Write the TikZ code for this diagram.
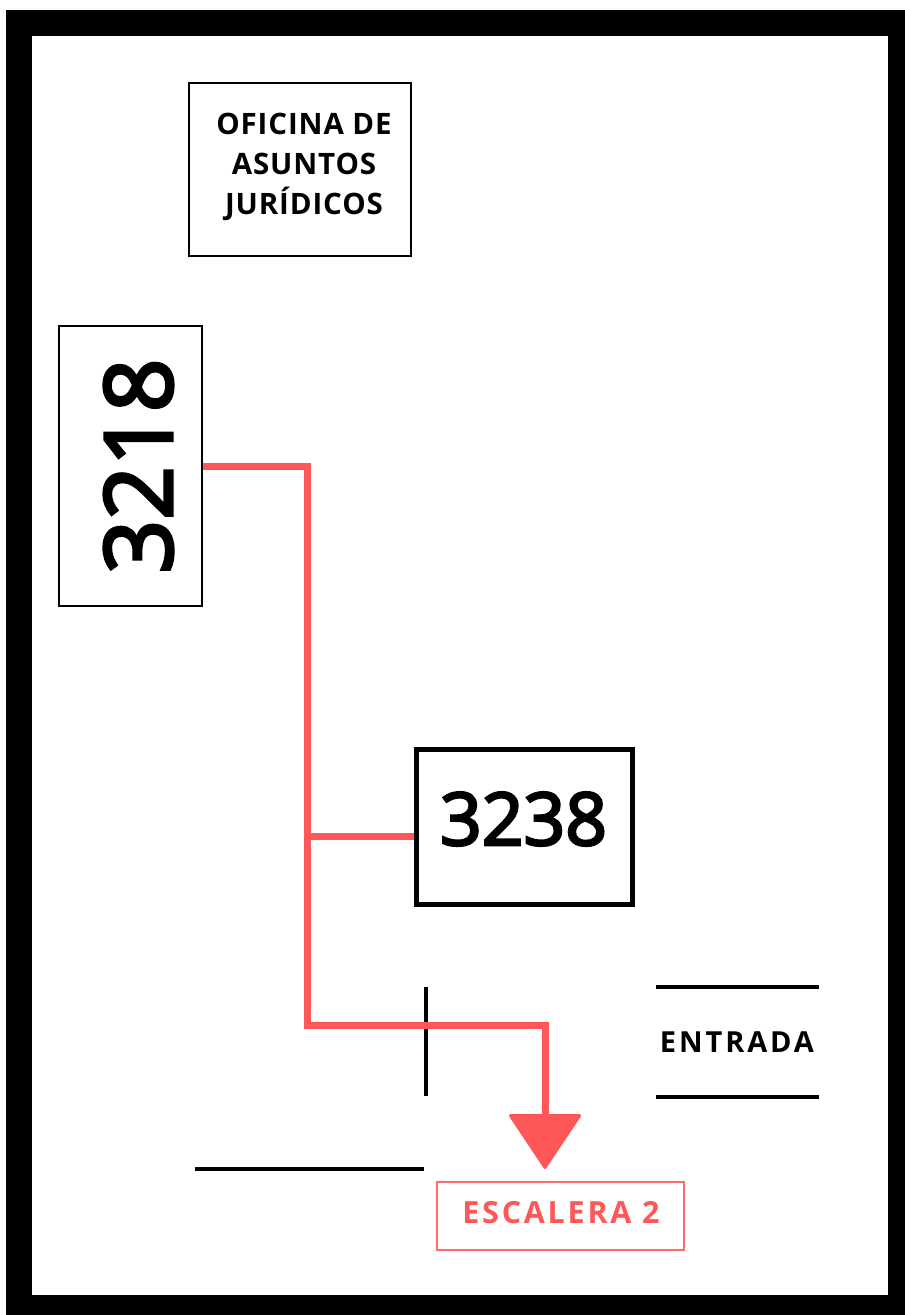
\documentclass[tikz,border=0pt]{standalone}
\usepackage{fontspec}
\setmainfont{Open Sans}
\newfontfamily\digitfont{Open Sans}[FakeBold=3.5]
\newfontfamily\titlefont{Open Sans}[LetterSpace=3]
\newfontfamily\spacedfont{Open Sans}[LetterSpace=10]
\newfontfamily\escfont{Open Sans}[LetterSpace=9]
\usetikzlibrary{arrows.meta,calc}
\definecolor{cred}{HTML}{FF5757}
\definecolor{credbox}{HTML}{FF6B6B}
\tikzset{
  room/.style={draw=black,fill=white,inner sep=0pt},
  redline/.style={draw=cred,line width=7pt,line join=miter},
  wall/.style={draw=black,line width=4.5pt},
  label/.style={inner sep=0pt,text=black}
}
\begin{document}
\begin{tikzpicture}[x=1pt,y=-1pt]
\useasboundingbox (0,0) rectangle (905,1315);
\fill[black] (6,10) rectangle (905,1315);
\fill[white] (32,36) rectangle (888,1295);

% office box
\node[room,line width=2.5pt,minimum width=222pt,minimum height=173pt] (ofi) at (300,169.5) {};
\node[label,align=center,font=\titlefont\bfseries\fontsize{29.5}{40}\selectfont] (ofit) at (304,167) {OFICINA DE\\ASUNTOS\\JUR\'IDICOS};

% 3218
\node[room,line width=2pt,minimum width=143pt,minimum height=280pt] (b3218) at (130.5,466) {};
\node[label,rotate=90,font=\digitfont\fontsize{94}{94}\selectfont] (t3218) at (138.5,466) {3218};

% 3238
\node[room,line width=5pt,minimum width=216pt,minimum height=155pt] (b3238) at (524,827) {};
\node[label,font=\digitfont\fontsize{73}{73}\selectfont] (t3238) at (523.5,819) {3238};

% escalera
\node[draw=credbox,line width=2pt,minimum width=247pt,minimum height=68pt,inner sep=0pt] (besc) at (560.5,1216) {};
\node[label,text=cred,font=\escfont\bfseries\fontsize{30.5}{30}\selectfont] (tesc) at (561,1212.5) {ESCALERA 2};

% entrada
\node[label,font=\spacedfont\bfseries\fontsize{29}{29}\selectfont] (tent) at (737,1042) {ENTRADA};
\draw[wall] (656,987) -- (819,987);
\draw[wall] (656,1097) -- (819,1097);
\draw[wall] (426,987) -- (426,1096);
\draw[wall] (195,1169) -- (424,1169);

% red route
\coordinate (j1) at (307,466);
\coordinate (j4) at (307,836);
\coordinate (j2) at (307,1025);
\coordinate (j3) at (545,1025);
\coordinate (tip) at (545,1169);
\draw[redline] (j4) -- (b3238.west |- j4);
\draw[redline,-{Triangle[length=56pt,width=74pt,round,line width=3pt]}] (b3218.east) -- (j1) -- (j2) -- (j3) -- (tip);
\end{tikzpicture}
\end{document}
